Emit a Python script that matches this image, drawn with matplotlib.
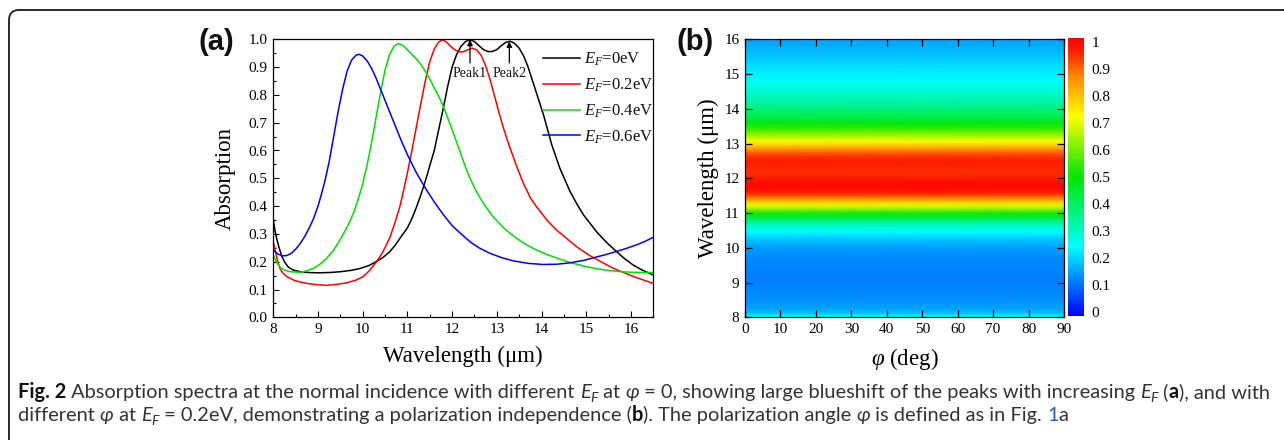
import numpy as np
import matplotlib
matplotlib.use("Agg")
import matplotlib.pyplot as plt
from matplotlib.colors import LinearSegmentedColormap
from matplotlib.path import Path
from matplotlib.patches import PathPatch
from matplotlib.ticker import MultipleLocator

# ---------------------------------------------------------------- data
# Absorption spectra at normal incidence for several Fermi energies
wl_ef0 = [8.0, 8.04, 8.08, 8.13, 8.19, 8.26, 8.34, 8.45, 8.6, 8.8, 9.0, 9.25,
          9.5, 9.75, 9.95, 10.15, 10.3, 10.45, 10.6, 10.72, 10.85, 11.0, 11.1,
          11.2, 11.3, 11.4, 11.5, 11.6, 11.7, 11.8, 11.9, 12.0, 12.1, 12.2,
          12.3, 12.4, 12.5, 12.6, 12.7, 12.8, 12.9, 13.0, 13.1, 13.2, 13.3,
          13.4, 13.5, 13.6, 13.7, 13.8, 13.9, 14.05, 14.23, 14.41, 14.64, 14.8,
          14.94, 15.1, 15.23, 15.45, 15.68, 15.85, 16.05, 16.25, 16.5]
abs_ef0 = [0.35, 0.31, 0.28, 0.25, 0.22, 0.197, 0.18, 0.17, 0.164, 0.161, 0.16,
           0.161, 0.164, 0.169, 0.176, 0.187, 0.2, 0.215, 0.235, 0.258, 0.288,
           0.322, 0.355, 0.395, 0.44, 0.49, 0.545, 0.60, 0.675, 0.75, 0.83, 0.9,
           0.945, 0.975, 0.992, 0.998, 0.992, 0.977, 0.963, 0.956, 0.956, 0.963,
           0.977, 0.989, 0.993, 0.985, 0.968, 0.94, 0.9, 0.85, 0.8, 0.725, 0.62,
           0.536, 0.452, 0.405, 0.368, 0.335, 0.308, 0.27, 0.236, 0.212, 0.188,
           0.17, 0.152]

wl_ef02 = [8.0, 8.05, 8.1, 8.15, 8.22, 8.3, 8.45, 8.6, 8.75, 9.0, 9.19, 9.4,
           9.64, 9.85, 10.01, 10.15, 10.31, 10.45, 10.61, 10.72, 10.83, 10.92,
           11.0, 11.1, 11.2, 11.3, 11.4, 11.5, 11.6, 11.7, 11.78, 11.85, 11.95,
           12.05, 12.15, 12.25, 12.35, 12.45, 12.55, 12.65, 12.75, 12.85, 12.95,
           13.05, 13.15, 13.25, 13.35, 13.45, 13.6, 13.75, 13.9, 14.12, 14.35,
           14.56, 14.8, 15.08, 15.35, 15.61, 15.85, 16.05, 16.3, 16.5]
abs_ef02 = [0.272, 0.235, 0.2, 0.175, 0.158, 0.147, 0.134, 0.127, 0.122, 0.117,
            0.115, 0.118, 0.124, 0.134, 0.146, 0.168, 0.2, 0.235, 0.288, 0.34,
            0.398, 0.46, 0.52, 0.6, 0.685, 0.77, 0.85, 0.92, 0.965, 0.99, 0.998,
            0.993, 0.978, 0.963, 0.955, 0.955, 0.962, 0.968, 0.962, 0.942, 0.905,
            0.855, 0.795, 0.735, 0.68, 0.63, 0.585, 0.54, 0.48, 0.43, 0.395,
            0.35, 0.312, 0.284, 0.252, 0.222, 0.198, 0.176, 0.16, 0.147, 0.133,
            0.122]

wl_ef04 = [8.0, 8.07, 8.15, 8.25, 8.37, 8.6, 8.75, 8.9, 9.05, 9.19, 9.34, 9.49,
           9.6, 9.7, 9.79, 9.9, 10.0, 10.1, 10.2, 10.3, 10.4, 10.5, 10.6, 10.7,
           10.8, 10.9, 11.0, 11.1, 11.2, 11.3, 11.4, 11.5, 11.6, 11.73, 11.85,
           12.0, 12.1, 12.2, 12.3, 12.4, 12.55, 12.7, 12.9, 13.15, 13.35, 13.59,
           13.85, 14.12, 14.4, 14.64, 15.0, 15.38, 15.7, 16.0, 16.5]
abs_ef04 = [0.224, 0.2, 0.18, 0.17, 0.164, 0.162, 0.167, 0.176, 0.192, 0.212,
            0.24, 0.278, 0.31, 0.34, 0.374, 0.425, 0.48, 0.55, 0.63, 0.72, 0.81,
            0.89, 0.945, 0.975, 0.985, 0.978, 0.962, 0.945, 0.93, 0.91, 0.885,
            0.858, 0.825, 0.785, 0.74, 0.675, 0.63, 0.585, 0.54, 0.5, 0.45, 0.41,
            0.365, 0.322, 0.295, 0.268, 0.245, 0.226, 0.21, 0.197, 0.182, 0.171,
            0.165, 0.162, 0.161]

wl_ef06 = [8.0, 8.1, 8.2, 8.3, 8.4, 8.5, 8.6, 8.7, 8.8, 8.9, 9.0, 9.08, 9.16,
           9.25, 9.35, 9.45, 9.55, 9.65, 9.75, 9.85, 9.92, 10.0, 10.1, 10.2,
           10.3, 10.4, 10.55, 10.7, 10.85, 11.0, 11.2, 11.4, 11.6, 11.8, 12.0,
           12.2, 12.4, 12.6, 12.85, 13.1, 13.37, 13.7, 14.04, 14.35, 14.64,
           14.95, 15.23, 15.45, 15.68, 15.9, 16.13, 16.3, 16.5]
abs_ef06 = [0.242, 0.228, 0.221, 0.222, 0.23, 0.245, 0.265, 0.29, 0.32, 0.355,
            0.4, 0.445, 0.494, 0.56, 0.65, 0.74, 0.82, 0.885, 0.925, 0.943,
            0.946, 0.94, 0.922, 0.895, 0.86, 0.82, 0.76, 0.7, 0.64, 0.585, 0.52,
            0.465, 0.415, 0.37, 0.33, 0.3, 0.272, 0.25, 0.23, 0.215, 0.203,
            0.194, 0.19, 0.191, 0.196, 0.205, 0.217, 0.226, 0.237, 0.248, 0.261,
            0.272, 0.288]

series_labels = [r"$E_F$=0eV", r"$E_F$=0.2eV", r"$E_F$=0.4eV", r"$E_F$=0.6eV"]
series_colors = ["#000000", "#ff0000", "#00e000", "#0000ff"]

# Peak markers on the E_F = 0 spectrum
peak_names = ["Peak1", "Peak2"]
peak_wl = [12.4, 13.28]

# Polarization sweep at E_F = 0.2 eV (absorption does not depend on angle)
angle_deg = [0, 90]

# ---------------------------------------------------------------- style
plt.rcParams['font.family'] = ['Liberation Serif', 'DejaVu Serif']
plt.rcParams['mathtext.fontset'] = 'custom'
plt.rcParams['mathtext.rm'] = 'Liberation Serif'
plt.rcParams['mathtext.it'] = 'Liberation Serif:italic'
plt.rcParams['mathtext.bf'] = 'Liberation Serif:bold'
plt.rcParams['axes.linewidth'] = 0.9
plt.rcParams['text.color'] = '#111111'

W, H = 1284, 440
fig = plt.figure(figsize=(W / 100, H / 100), dpi=100)
fig.patch.set_facecolor('white')

TICK_FS = 11
LABEL_FS = 16.5

# ---------------------------------------------------------------- panel (a)
ax = fig.add_axes([273.3 / W, 1 - 317.3 / H, 380 / W, 278 / H])
for x, y, c, lab in zip([wl_ef0, wl_ef02, wl_ef04, wl_ef06],
                        [abs_ef0, abs_ef02, abs_ef04, abs_ef06],
                        series_colors, series_labels):
    ax.plot(x, y, color=c, lw=1.1, label=lab, solid_joinstyle='round')

ax.set_xlim(8, 16.5)
ax.set_ylim(0, 1.0)
ax.xaxis.set_major_locator(MultipleLocator(1))
ax.xaxis.set_minor_locator(MultipleLocator(0.5))
ax.yaxis.set_major_locator(MultipleLocator(0.1))
ax.yaxis.set_minor_locator(MultipleLocator(0.05))
ax.yaxis.set_major_formatter(plt.FuncFormatter(lambda v, p: f"{v:.1f}"))
ax.tick_params(which='both', direction='in', top=False, right=False,
               labelsize=TICK_FS, pad=4, width=0.8)
ax.tick_params(which='major', length=4.5)
ax.tick_params(which='minor', length=2.5)
ax.set_xlabel("Wavelength (μm)", fontsize=LABEL_FS, labelpad=7)
ax.set_ylabel("Absorption", fontsize=LABEL_FS, labelpad=9)

for name, px in zip(peak_names, peak_wl):
    py = np.interp(px, wl_ef0, abs_ef0)
    ax.annotate("", xy=(px, py), xytext=(px, 0.915),
                arrowprops=dict(arrowstyle='-|>', color='black', lw=0.9,
                                mutation_scale=8, shrinkA=0, shrinkB=0))
    ax.text(px, 0.878, name, ha='center', va='center', fontsize=10)

ax.legend(loc='upper left', bbox_to_anchor=(0.71, 0.958), frameon=False,
          fontsize=12, handlelength=2.2, handletextpad=0.25,
          labelspacing=0.5, borderpad=0, borderaxespad=0)

fig.text(216 / W, 1 - 42 / H, "(a)", family='Liberation Sans', weight='bold',
         fontsize=21, ha='center', va='center')

# ---------------------------------------------------------------- panel (b)
cmap = LinearSegmentedColormap.from_list(
    "spec", [(0.0, "#0000ff"), (0.25, "#00ffff"), (0.5, "#00e600"),
             (0.72, "#ffff00"), (0.86, "#ff8c00"), (0.96, "#ff1a00"),
             (1.0, "#ff0000")])

axb = fig.add_axes([745 / W, 1 - 317.3 / H, 319 / W, 278 / H])
A, L = np.meshgrid(angle_deg, wl_ef02)
C = np.tile(np.asarray(abs_ef02)[:, None], (1, len(angle_deg)))
# the colour bar leaves a small margin beyond 0 and 1
mesh = axb.pcolormesh(A, L, C, cmap=cmap, vmin=-0.015, vmax=1.013,
                      shading='gouraud')
axb.set_xlim(0, 90)
axb.set_ylim(8, 16)
axb.xaxis.set_major_locator(MultipleLocator(10))
axb.yaxis.set_major_locator(MultipleLocator(1))
axb.tick_params(direction='in', top=True, right=True, length=5, width=0.9,
                labelsize=TICK_FS, pad=4)
axb.set_xlabel(r"$\varphi$ (deg)", fontsize=LABEL_FS, labelpad=7)
axb.set_ylabel("Wavelength (μm)", fontsize=LABEL_FS, labelpad=4)

cax = fig.add_axes([1068.3 / W, 1 - 316 / H, 16 / W, 277.7 / H])
cb = fig.colorbar(mesh, cax=cax, ticks=np.arange(0, 1.01, 0.1))
cb.outline.set_visible(False)
cb.ax.tick_params(length=0, labelsize=TICK_FS, pad=5)
cb.ax.set_yticklabels(["0"] + [f"{v:.1f}" for v in np.arange(0.1, 0.95, 0.1)] + ["1"])

fig.text(695 / W, 1 - 41.5 / H, "(b)", family='Liberation Sans', weight='bold',
         fontsize=21, ha='center', va='center')

# ---------------------------------------------------------------- frame
def fx(px):
    return px / W


def fy(py):
    return 1 - py / H


verts = [(fx(9), fy(H)), (fx(9), fy(20)), (fx(9), fy(10)), (fx(19), fy(10)),
         (fx(W), fy(10))]
codes = [Path.MOVETO, Path.LINETO, Path.CURVE3, Path.CURVE3, Path.LINETO]
fig.add_artist(PathPatch(Path(verts, codes), transform=fig.transFigure,
                         fill=False, lw=1.4, edgecolor='#2a2a2a'))

# ---------------------------------------------------------------- caption
CAP_FONT = 'Lato'
renderer = fig.canvas.get_renderer()

STYLES = {
    'n': dict(),
    'b': dict(weight='bold', color='#111111'),
    'i': dict(style='italic'),
    's': dict(style='italic', sub=True),
    'l': dict(color='#2060c0'),
}

line1 = [("Fig. 2", 'b'), (" Absorption spectra at the normal incidence with different ", 'n'),
         ("E", 'i'), ("F", 's'), (" at ", 'n'), ("φ", 'i'),
         (" = 0, showing large blueshift of the peaks with increasing ", 'n'),
         ("E", 'i'), ("F", 's'), (" (", 'n'), ("a", 'b'), ("), and with", 'n')]
line2 = [("different ", 'n'), ("φ", 'i'), (" at ", 'n'), ("E", 'i'), ("F", 's'),
         (" = 0.2eV, demonstrating a polarization independence (", 'n'), ("b", 'b'),
         ("). The polarization angle ", 'n'), ("φ", 'i'), (" is defined as in Fig. ", 'n'),
         ("1", 'l'), ("a", 'n')]


def run_kw(style, size):
    st = dict(STYLES[style])
    sub = st.pop('sub', False)
    kw = dict(family=[CAP_FONT, 'DejaVu Sans'], color='#333333',
              fontsize=size * (0.7 if sub else 1.0))
    kw.update(st)
    return kw, sub


def run_width(s, style, size):
    kw, _ = run_kw(style, size)
    t1 = fig.text(0, 0, s + "x", **kw)
    t2 = fig.text(0, 0, "x", **kw)
    w = (t1.get_window_extent(renderer).width
         - t2.get_window_extent(renderer).width)
    t1.remove()
    t2.remove()
    return w


def draw_runs(runs, x0, baseline, size):
    x = x0
    for s, style in runs:
        kw, sub = run_kw(style, size)
        yb = baseline + (4 if sub else 0)
        fig.text(fx(x), fy(yb), s, ha='left', va='baseline', **kw)
        x += run_width(s, style, size)


base_size = 12.0
natural = sum(run_width(s, st, base_size) for s, st in line1)
cap_size = base_size * (1250 / natural)
draw_runs(line1, 18, 398, cap_size)
draw_runs(line2, 18, 421, cap_size)

fig.savefig("out.png", dpi=100, facecolor='white')
